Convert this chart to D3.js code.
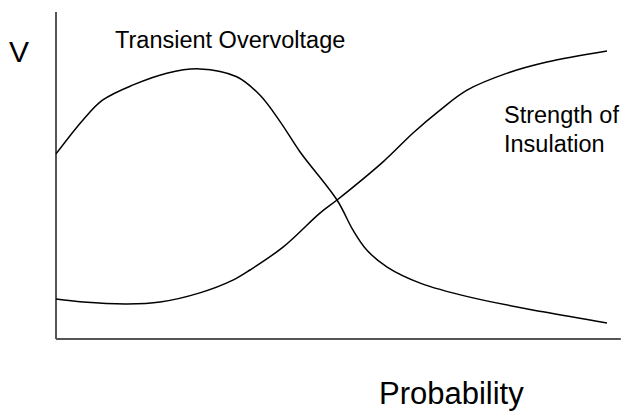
<!DOCTYPE html>
<html>
<head>
<meta charset="utf-8">
<script src="https://cdn.jsdelivr.net/npm/d3@7"></script>
<style>
  html, body { margin: 0; padding: 0; background: #fff; }
  svg { display: block; font-family: 'Liberation Sans', Arial, sans-serif; }
</style>
</head>
<body>
<div id="chart"></div>
<script>
// Probability axis positions (0..100)
const overvoltageX = [0, 4.9, 8.5, 14.0, 20.1, 26.1, 32.8, 37.0, 40.7, 44.3, 51.0, 53.9, 56.4, 60.1, 66.1, 75.1, 88.4, 100];
const overvoltageV = [56.6, 67.0, 73.1, 77.7, 81.3, 82.6, 80.2, 74.6, 66.4, 57.2, 42.5, 33.3, 27.2, 22.0, 17.1, 12.8, 8.3, 4.9];

const strengthX = [0, 4.9, 12.9, 18.9, 26.1, 32.1, 35.2, 41.2, 47.9, 51.0, 59.3, 64.8, 69.7, 74.6, 81.9, 89.1, 100];
const strengthV = [12.2, 11.3, 10.7, 11.3, 14.1, 18.0, 21.1, 28.1, 38.5, 42.5, 54.1, 63.0, 70.0, 76.1, 81.3, 84.7, 88.1];

const labels = {
  yTitle: 'V',
  xTitle: 'Probability',
  overvoltage: ['Transient Overvoltage'],
  strength: ['Strength of', 'Insulation']
};

const width = 622, height = 413;

const svg = d3.select('#chart')
  .append('svg')
  .attr('width', width)
  .attr('height', height);

const x = d3.scaleLinear().domain([0, 100]).range([56, 607]);
const y = d3.scaleLinear().domain([0, 100]).range([339, 12]);

// axes: plain lines, no ticks
svg.append('line')
  .attr('x1', x(0)).attr('x2', x(0))
  .attr('y1', y(0)).attr('y2', y(100))
  .attr('stroke', '#555').attr('stroke-width', 2);

svg.append('line')
  .attr('x1', x(0)).attr('x2', x(102.5))
  .attr('y1', y(0)).attr('y2', y(0))
  .attr('stroke', '#555').attr('stroke-width', 2);

const line = d3.line()
  .x(d => x(d[0]))
  .y(d => y(d[1]))
  .curve(d3.curveCatmullRom.alpha(0.5));

const series = [
  d3.zip(overvoltageX, overvoltageV),
  d3.zip(strengthX, strengthV)
];

svg.selectAll('path.curve')
  .data(series)
  .enter()
  .append('path')
  .attr('class', 'curve')
  .attr('d', line)
  .attr('fill', 'none')
  .attr('stroke', '#000')
  .attr('stroke-width', 1.5);

// text labels
svg.append('text')
  .attr('x', 9).attr('y', 62)
  .attr('font-size', 30)
  .text(labels.yTitle);

svg.append('text')
  .attr('x', 379).attr('y', 404)
  .attr('font-size', 31)
  .text(labels.xTitle);

svg.append('text')
  .attr('x', 115).attr('y', 48)
  .attr('font-size', 23.5)
  .text(labels.overvoltage[0]);

svg.selectAll('text.strength')
  .data(labels.strength)
  .enter()
  .append('text')
  .attr('class', 'strength')
  .attr('x', 504)
  .attr('y', (d, i) => 123 + i * 29)
  .attr('font-size', 23.5)
  .text(d => d);
</script>
</body>
</html>
